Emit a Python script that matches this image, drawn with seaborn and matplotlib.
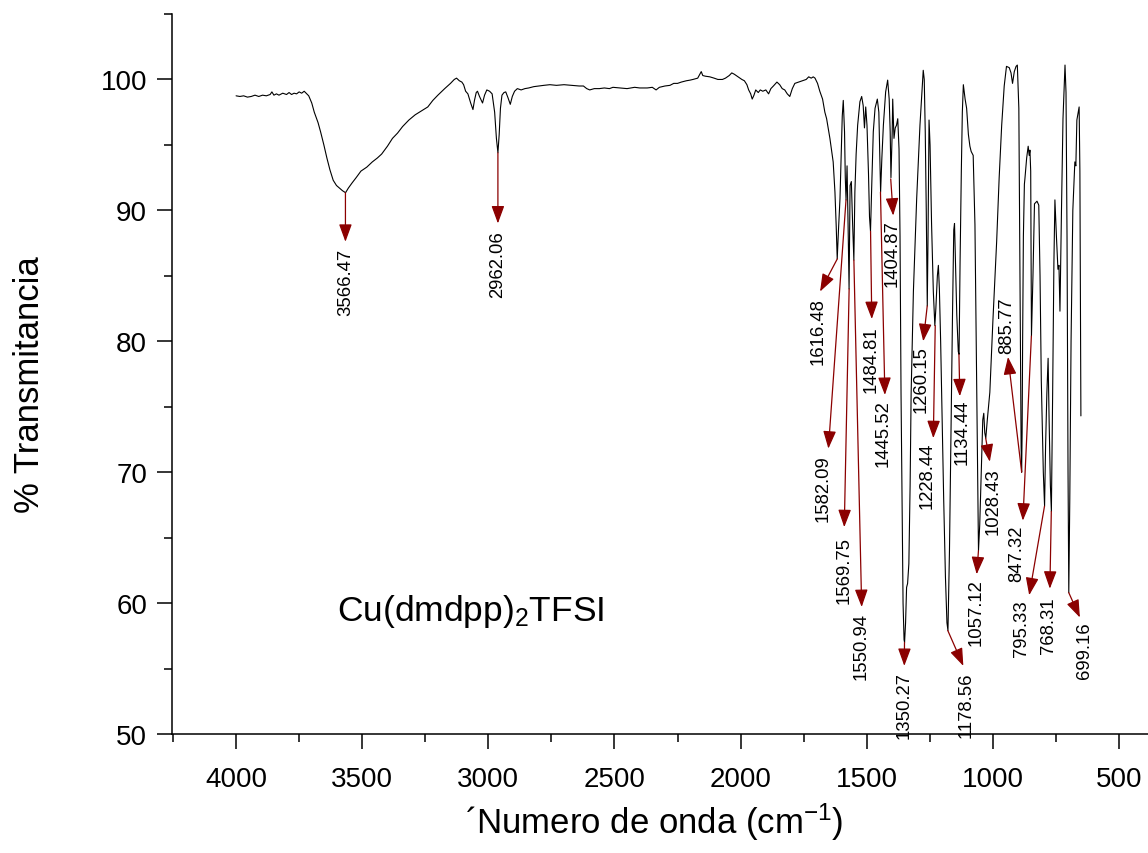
import numpy as np
import pandas as pd
import matplotlib
matplotlib.use("Agg")
import matplotlib.pyplot as plt
from matplotlib.ticker import MultipleLocator, FixedLocator
import seaborn as sns

# ---------------- data ----------------
wavenumber = [
    4000, 3985, 3970, 3955, 3940, 3925, 3910, 3895, 3880, 3865, 3858, 3850, 3840, 3830, 3815, 3800,
    3790, 3780, 3770, 3760, 3750, 3740, 3730, 3720, 3712, 3700, 3690, 3675, 3665, 3652, 3640, 3628,
    3615, 3602, 3590, 3578, 3566, 3555, 3540, 3524, 3505, 3482, 3460, 3440, 3423, 3400, 3380, 3360,
    3340, 3315, 3290, 3265, 3240, 3220, 3200, 3173, 3150, 3135, 3126, 3115, 3105, 3098, 3090, 3081,
    3070, 3061, 3055, 3048, 3043, 3035, 3023, 3015, 3006, 2995, 2985, 2975, 2968, 2962, 2957, 2952,
    2946, 2938, 2931, 2922, 2913, 2905, 2896, 2885, 2870, 2855, 2840, 2820, 2800, 2780, 2756, 2730,
    2700, 2670, 2640, 2623, 2610, 2598, 2580, 2560, 2540, 2520, 2506, 2480, 2450, 2420, 2400, 2370,
    2350, 2335, 2322, 2300, 2280, 2265, 2250, 2235, 2215, 2200, 2189, 2170, 2160, 2156, 2150, 2140,
    2122, 2105, 2090, 2072, 2060, 2045, 2035, 2025, 2010, 1995, 1985, 1975, 1968, 1960, 1954, 1947,
    1940, 1930, 1922, 1912, 1900, 1889, 1880, 1870, 1856, 1845, 1835, 1825, 1815, 1805, 1795, 1785,
    1770, 1755, 1740, 1730, 1720, 1712, 1705, 1695, 1686, 1675, 1666, 1659, 1646, 1639, 1633, 1626,
    1621, 1617, 1612, 1606, 1600, 1597, 1593, 1588, 1585, 1582, 1578, 1574, 1570, 1566, 1561, 1556,
    1551, 1547, 1542, 1536, 1527, 1520, 1514, 1509, 1504, 1499, 1493, 1489, 1485, 1480, 1474, 1467,
    1458, 1452, 1448, 1445, 1440, 1434, 1425, 1417, 1411, 1407, 1404, 1399, 1397, 1392, 1387, 1382,
    1377, 1372, 1368, 1364, 1360, 1356, 1352, 1350, 1346, 1342, 1338, 1333, 1328, 1324, 1315, 1302,
    1289, 1280, 1276, 1272, 1268, 1264, 1260, 1257, 1253, 1249, 1243, 1236, 1230, 1226, 1220, 1216,
    1212, 1207, 1203, 1195, 1188, 1182, 1178, 1172, 1166, 1160, 1155, 1152, 1148, 1143, 1137, 1134,
    1130, 1125, 1121, 1117, 1110, 1104, 1097, 1091, 1086, 1078, 1071, 1064, 1060, 1057, 1052, 1046,
    1040, 1036, 1032, 1028, 1022, 1012, 1000, 985, 975, 965, 955, 946, 935, 928, 922, 915,
    908, 903, 900, 897, 894, 891, 888, 886, 884, 882, 879, 875, 873, 866, 860, 856,
    853, 850, 847, 841, 835, 825, 818, 813, 808, 800, 795, 791, 786, 781, 777, 772,
    768, 763, 758, 754, 748, 742, 738, 734, 728, 722, 714, 710, 706, 702, 699, 695,
    690, 683, 675, 671, 667, 658, 655, 651,
]
transmittance = [
    98.75, 98.70, 98.75, 98.65, 98.70, 98.80, 98.70, 98.80, 98.75, 98.85, 99.05, 98.80, 98.90, 98.80, 98.95, 98.85,
    99.00, 98.85, 98.95, 98.90, 99.05, 98.95, 99.10, 98.90, 98.75, 98.2, 97.5, 96.7, 96.0, 95.0, 94.0, 93.1,
    92.3, 91.9, 91.7, 91.5, 91.35, 91.7, 92.1, 92.5, 93.0, 93.3, 93.7, 94.0, 94.3, 94.9, 95.5, 95.9,
    96.4, 96.9, 97.3, 97.6, 97.9, 98.4, 98.8, 99.3, 99.7, 100.0, 100.1, 99.9, 99.8, 99.6, 99.1, 98.9,
    98.2, 97.7, 98.4, 99.0, 99.1, 98.7, 98.2, 98.8, 99.2, 99.1, 98.9, 97.5, 95.5, 94.4, 95.8, 97.8,
    98.8, 99.0, 99.05, 98.6, 98.1, 98.7, 99.1, 99.3, 99.2, 99.3, 99.35, 99.45, 99.5, 99.55, 99.6, 99.55,
    99.6, 99.55, 99.5, 99.5, 99.3, 99.2, 99.3, 99.3, 99.35, 99.3, 99.4, 99.35, 99.3, 99.4, 99.35, 99.35,
    99.4, 99.2, 99.4, 99.5, 99.55, 99.7, 99.7, 99.8, 99.9, 99.95, 100.0, 100.1, 100.45, 100.6, 100.3, 100.25,
    100.2, 100.1, 100.0, 100.0, 100.1, 100.3, 100.5, 100.4, 100.2, 100.0, 99.9, 99.6, 99.2, 98.9, 98.5, 98.8,
    99.2, 99.0, 99.2, 99.1, 99.2, 98.9, 99.3, 99.5, 99.8, 99.6, 99.3, 99.2, 98.9, 98.7, 99.3, 99.7,
    99.8, 99.9, 100.0, 100.2, 100.1, 100.2, 100.1, 99.7, 99.1, 98.5, 97.5, 97.0, 95.5, 94.5, 93.7, 91.4,
    88.8, 86.3, 88.5, 90.9, 95.0, 97.2, 98.4, 96.0, 92.5, 90.8, 93.4, 89.0, 84.0, 91.9, 92.2, 89.0,
    86.2, 91.4, 94.3, 96.5, 98.3, 98.7, 98.0, 96.3, 97.9, 96.5, 92.8, 89.5, 88.4, 92.0, 96.0, 97.8,
    98.5, 97.5, 94.0, 91.4, 94.0, 96.5, 99.05, 99.95, 98.5, 96.0, 92.5, 96.0, 98.5, 95.5, 96.3, 96.5,
    97.0, 94.7, 88.0, 76.0, 68.0, 60.0, 57.2, 57.0, 58.5, 61.2, 61.5, 63.0, 69.0, 76.0, 83.8, 90.9,
    96.5, 99.5, 100.7, 100.0, 96.0, 90.0, 82.7, 88.0, 96.9, 95.0, 89.0, 83.8, 81.2, 82.5, 85.0, 85.8,
    84.0, 80.0, 76.1, 68.0, 62.0, 58.5, 57.9, 64.0, 73.0, 82.0, 88.5, 89.0, 86.0, 82.0, 79.2, 79.0,
    86.0, 93.0, 97.5, 99.6, 98.5, 97.8, 95.8, 94.9, 94.5, 94.2, 88.9, 76.1, 68.0, 64.0, 66.0, 70.0,
    74.0, 74.5, 73.0, 72.6, 74.0, 76.1, 81.5, 87.6, 92.5, 96.5, 99.5, 101.0, 100.9, 100.5, 99.7, 100.6,
    101.0, 101.1, 99.5, 97.8, 89.0, 80.0, 72.0, 70.0, 73.0, 80.0, 88.0, 92.0, 92.4, 94.0, 94.9, 94.2,
    94.6, 93.0, 80.4, 85.0, 90.5, 90.7, 90.4, 85.0, 77.0, 70.0, 67.4, 72.0, 76.0, 78.7, 74.0, 69.0,
    67.0, 76.0, 86.0, 90.8, 88.0, 85.5, 85.8, 82.3, 90.0, 97.0, 101.1, 99.0, 88.0, 70.0, 60.8, 68.0,
    80.0, 90.0, 93.7, 93.4, 96.9, 97.9, 93.0, 74.3,
]

peak_labels = ["3566.47", "2962.06", "1616.48", "1582.09", "1569.75", "1550.94", "1484.81",
               "1445.52", "1404.87", "1350.27", "1260.15", "1228.44", "1178.56", "1134.44",
               "1057.12", "1028.43", "885.77", "847.32", "795.33", "768.31", "699.16"]
peak_wn = [3566.47, 2962.06, 1616.48, 1582.09, 1569.75, 1550.94, 1484.81,
           1445.52, 1404.87, 1350.27, 1260.15, 1228.44, 1178.56, 1134.44,
           1057.12, 1028.43, 885.77, 847.32, 795.33, 768.31, 699.16]
peak_T = [91.35, 94.4, 86.3, 90.8, 84.0, 86.2, 88.4,
          91.4, 92.4, 57.0, 82.7, 81.2, 57.9, 79.0,
          64.0, 72.6, 70.0, 80.4, 67.4, 67.0, 60.8]

# label layout (arrow tip and text anchor, data coordinates)
tip_x = [3566.47, 2962.06, 1685, 1652, 1589, 1520, 1480, 1428, 1395, 1351, 1276, 1236, 1117, 1131,
         1064, 1012, 940, 881, 856, 774, 655]
tip_y = [87.6, 89.0, 83.8, 71.8, 65.8, 59.7, 81.7, 75.9, 89.6, 55.2, 80.0, 72.6, 55.2, 75.8,
         62.2, 70.8, 78.8, 66.3, 60.6, 61.1, 58.9]
text_x = [3566, 2962, 1693, 1672, 1590, 1523, 1482, 1436, 1401, 1352, 1285, 1259, 1105, 1120,
          1065, 1000, 946, 905, 885, 780, 635]
text_y = [87.1, 88.5, 83.4, 71.4, 65.1, 59.3, 81.2, 75.6, 89.3, 54.8, 79.7, 72.3, 54.8, 75.6,
          61.9, 70.4, 79.1, 66.0, 60.3, 60.5, 58.6]
text_va = ["top"] * 16 + ["bottom"] + ["top"] * 4

x_major = [4000, 3500, 3000, 2500, 2000, 1500, 1000, 500]
y_major = [50, 60, 70, 80, 90, 100]

# ---------------- style ----------------
sns.set_theme(style="ticks")
plt.rcParams["font.family"] = ["Liberation Sans", "DejaVu Sans"]
plt.rcParams["mathtext.fontset"] = "custom"
plt.rcParams["mathtext.rm"] = "Liberation Sans"
plt.rcParams["mathtext.it"] = "Liberation Sans:italic"
plt.rcParams["mathtext.default"] = "regular"

fig = plt.figure(figsize=(11.48, 8.54), dpi=100)
ax = fig.add_axes([172 / 1148, (854 - 735) / 854, 1 - 172 / 1148, (735 - 15) / 854])

df = pd.DataFrame({"wn": wavenumber, "T": transmittance})
sns.lineplot(data=df, x="wn", y="T", ax=ax, sort=False, estimator=None,
             color="black", linewidth=0.8)

ax.set_xlim(4254, 385)
ax.set_ylim(50, 105)
ax.xaxis.set_major_locator(FixedLocator(x_major))
ax.xaxis.set_minor_locator(MultipleLocator(250))
ax.yaxis.set_major_locator(FixedLocator(y_major))
ax.yaxis.set_minor_locator(MultipleLocator(5))
ax.tick_params(axis="both", which="major", direction="out", length=11, width=1.1,
               labelsize=20, color="black", labelcolor="black")
ax.tick_params(axis="both", which="minor", direction="out", length=5.5, width=1.1, color="black")
ax.tick_params(axis="x", which="major", pad=12)
ax.tick_params(axis="y", which="major", pad=7)
for s in ["top", "right"]:
    ax.spines[s].set_visible(False)
for s in ["left", "bottom"]:
    ax.spines[s].set_linewidth(1.1)
    ax.spines[s].set_color("black")
ax.set_xlabel("")
ax.set_ylabel("")
ax.grid(False)

ax.text(0.494, -0.121, "\u00b4Numero de onda (cm$^{\\mathregular{-1}}$)", transform=ax.transAxes,
        ha="center", va="center", fontsize=25, color="black")
ax.text(-0.1455, 0.486, "% Transmitancia", transform=ax.transAxes, rotation=90,
        ha="center", va="center", fontsize=25, color="black")

ax.text(3600, 58.7, "Cu(dmdpp)$_{2}$TFSI", ha="left", va="baseline", fontsize=25.5, color="black")

arrow_color = "#8b0000"
for lab, px, py, tx, ty, lx, ly, va in zip(peak_labels, peak_wn, peak_T, tip_x, tip_y,
                                          text_x, text_y, text_va):
    ax.annotate("", xy=(tx, ty), xytext=(px, py),
                arrowprops=dict(arrowstyle="-|>,head_length=0.6,head_width=0.22",
                                color=arrow_color, lw=0.9, shrinkA=0, shrinkB=0,
                                mutation_scale=18))
    ax.text(lx, ly, lab, rotation=90, ha="center", va=va, fontsize=13.3, color="black")

fig.savefig("out.png", dpi=100)
